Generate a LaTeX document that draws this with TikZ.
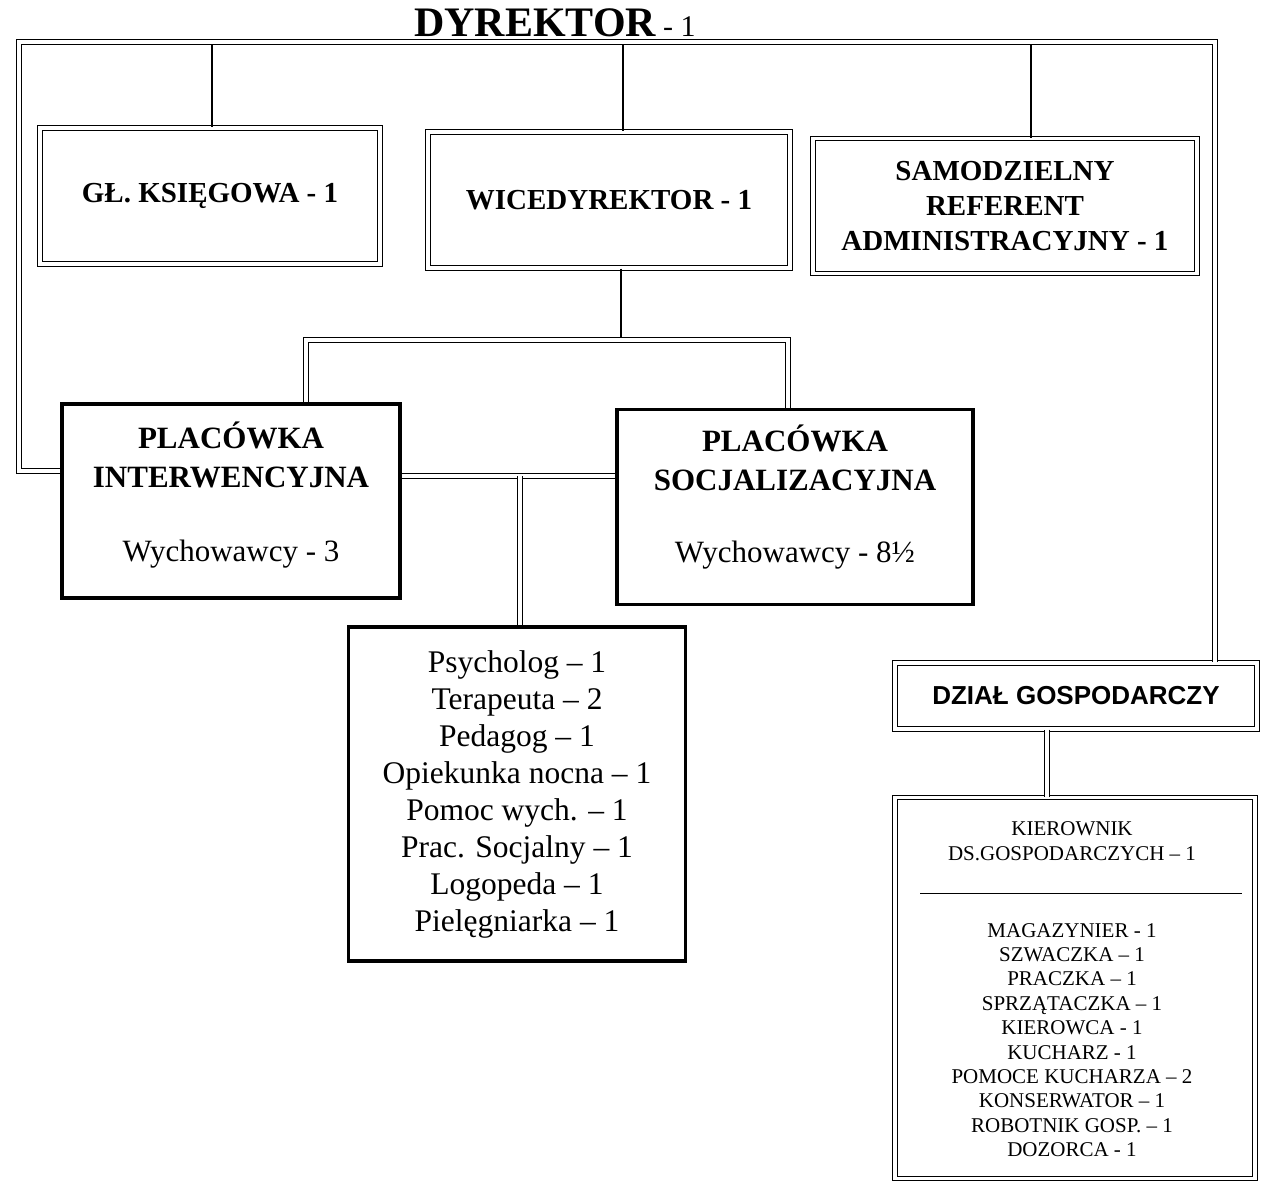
\documentclass[tikz,border=0pt]{standalone}
\usepackage{fontspec}
\setmainfont{Liberation Serif}
\newfontfamily\arialfont{Liberation Sans}
\begin{document}
\begin{tikzpicture}[x=1pt,y=-1pt,
  dblbox/.style={draw, double, double distance=3.5pt, line width=1.1pt, inner sep=0pt, align=center},
  thickbox/.style={draw, line width=3.8pt, inner sep=0pt, align=center},
  dblline/.style={double, double distance=4pt, line width=1.1pt},
  thinline/.style={line width=1.3pt},
  topfont/.style={font=\fontsize{29}{35}\selectfont\bfseries},
  midfont/.style={font=\fontsize{31}{39}\selectfont},
  stafffont/.style={font=\fontsize{31.5}{37}\selectfont},
  smallfont/.style={font=\fontsize{21}{24.4}\selectfont}]
\useasboundingbox (0,0) rectangle (1263,1185);

% title
\node[anchor=base, inner sep=0pt] (dyr) at (555,37) {\fontsize{42}{42}\selectfont\bfseries DYREKTOR\,\fontsize{30}{30}\selectfont\mdseries - 1};

% top row boxes
\node[dblbox, topfont, minimum width=340pt, minimum height=136pt] (gk) at (210,196) {GŁ. KSIĘGOWA - 1};
\node[dblbox, topfont, minimum width=362pt, minimum height=136pt] (wd) at (609,200) {WICEDYREKTOR - 1};
\node[dblbox, topfont, minimum width=384pt, minimum height=135pt] (sr) at (1005,206) {SAMODZIELNY\\REFERENT\\ADMINISTRACYJNY - 1};

% placówki
\node[thickbox, minimum width=338pt, minimum height=194pt] (pi) at (231,501) {};
\node[midfont, align=center, inner sep=0pt] (pitx) at (231,495)
  {\textbf{PLACÓWKA}\\\textbf{INTERWENCYJNA}\\[35pt]Wychowawcy - 3};
\node[thickbox, minimum width=356pt, minimum height=195pt] (ps) at (795,507) {};
\node[midfont, align=center, inner sep=0pt] (pstx) at (795,497)
  {\textbf{PLACÓWKA}\\\textbf{SOCJALIZACYJNA}\\[33pt]Wychowawcy - 8½};

% staff box
\node[thickbox, stafffont, minimum width=337pt, minimum height=334pt] (st) at (517,794)
  {Psycholog – 1\\Terapeuta – 2\\Pedagog – 1\\Opiekunka nocna – 1\\Pomoc wych. – 1\\Prac. Socjalny – 1\\Logopeda – 1\\Pielęgniarka – 1};

% dział gospodarczy
\node[dblbox, minimum width=362pt, minimum height=66pt, font=\arialfont\bfseries\fontsize{26}{30}\selectfont] (dz) at (1076,696) {DZIAŁ GOSPODARCZY};
\node[dblbox, minimum width=360pt, minimum height=381pt] (gs) at (1075,988) {};
\node[smallfont, align=center, inner sep=0pt] (kier) at (1072,841) {KIEROWNIK\\DS.GOSPODARCZYCH – 1};
\coordinate (rl) at (920,893);
\coordinate (rr) at (1242,893);
\draw[line width=1pt] (rl) -- (rr);
\node[smallfont, align=center, inner sep=0pt] (lst) at (1072,1040)
  {MAGAZYNIER - 1\\SZWACZKA – 1\\PRACZKA – 1\\SPRZĄTACZKA – 1\\KIEROWCA - 1\\KUCHARZ - 1\\POMOCE KUCHARZA – 2\\KONSERWATOR – 1\\ROBOTNIK GOSP. – 1\\DOZORCA - 1};

% outer frame from director
\coordinate (fl) at (19,471);
\coordinate (ftl) at (19,42);
\coordinate (ftr) at (1215,42);
\draw[dblline] (pi.west |- fl) -- (fl) -- (ftl) -- (ftr) -- (ftr |- dz.north);

% single drops to top row
\coordinate (g0) at (212,45);
\coordinate (w1) at (623,45);
\coordinate (s1) at (1031,45);
\draw[thinline] (g0) -- (g0 |- gk.north);
\draw[thinline] (w1) -- (w1 |- wd.north);
\draw[thinline] (s1) -- (s1 |- sr.north);

% wicedyrektor to placówki
\coordinate (w2) at (621,340);
\draw[thinline] (w2 |- wd.south) -- (w2);
\coordinate (hl) at (306,340);
\coordinate (hr) at (788,340);
\draw[dblline] (hl |- pi.north) -- (hl) -- (hr) -- (hr |- ps.north);

% between placówki and staff
\coordinate (mid) at (520,476);
\draw[dblline] (pi.east |- mid) -- (ps.west |- mid);
\draw[dblline] (mid) -- (mid |- st.north);

% dział to list
\coordinate (g1) at (1047,760);
\draw[dblline] (g1 |- dz.south) -- (g1 |- gs.north);
\end{tikzpicture}
\end{document}
